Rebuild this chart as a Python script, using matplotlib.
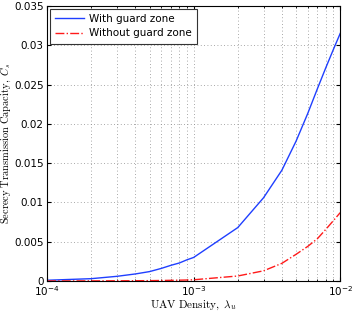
import matplotlib
matplotlib.use("Agg")
import matplotlib.pyplot as plt
from matplotlib.ticker import LogLocator, NullFormatter

plt.rcParams['mathtext.fontset'] = 'cm'

density = [1e-4, 2e-4, 3e-4, 4e-4, 5e-4, 6e-4, 7e-4, 8e-4, 9e-4,
           1e-3, 2e-3, 3e-3, 4e-3, 5e-3, 6e-3, 7e-3, 8e-3, 9e-3, 1e-2]
with_guard = [0.0001, 0.0003, 0.0006, 0.0009, 0.0012, 0.0016, 0.0020, 0.0023, 0.0027,
              0.0030, 0.0068, 0.0106, 0.0141, 0.0178, 0.0213, 0.0245, 0.0272, 0.0295, 0.0315]
without_guard = [0.00001, 0.00002, 0.00003, 0.00004, 0.00005, 0.00007, 0.00009, 0.00011, 0.00013,
                 0.00016, 0.00064, 0.0013, 0.00225, 0.0034, 0.0044, 0.0054, 0.0066, 0.0077, 0.0087]

fig = plt.figure(figsize=(3.54, 3.14), dpi=100)
ax = fig.add_axes([0.133, 0.105, 0.828, 0.876])

ax.plot(density, with_guard, color='#1f3fff', lw=1.0, label='With guard zone')
ax.plot(density, without_guard, color='#ff1a1a', lw=1.0, ls='-.', label='Without guard zone')

ax.set_xscale('log')
ax.set_xlim(1e-4, 1e-2)
ax.set_ylim(0, 0.035)
ax.set_yticks([0, 0.005, 0.01, 0.015, 0.02, 0.025, 0.03, 0.035])
ax.set_yticklabels(['0', '0.005', '0.01', '0.015', '0.02', '0.025', '0.03', '0.035'])
ax.xaxis.set_minor_locator(LogLocator(base=10, subs=range(2, 10)))
ax.xaxis.set_minor_formatter(NullFormatter())

gstyle = dict(ls=(0, (1, 3)), color='#8c8c8c', lw=0.6)
ax.grid(True, which='major', **gstyle)
ax.grid(True, which='minor', axis='x', **gstyle)
ax.tick_params(which='both', direction='in', top=True, right=True, labelsize=7.5, pad=2.5)
ax.tick_params(which='major', length=3)
ax.tick_params(which='minor', length=1.5)
for s in ax.spines.values():
    s.set_linewidth(0.8)

ax.set_xlabel(r'$\mathrm{UAV\ Density,}\ \lambda_u$', fontsize=8, labelpad=0)
ax.set_ylabel(r'$\mathrm{Secrecy\ Transmission\ Capacity,}\ C_s$', fontsize=7.5, labelpad=1)
ax.yaxis.set_label_coords(-0.115, 0.5)

leg = ax.legend(loc='upper left', fontsize=7.5, frameon=True, fancybox=False,
                edgecolor='#333333', framealpha=1, borderaxespad=0.25,
                handlelength=2.8, borderpad=0.5, labelspacing=0.45, handletextpad=0.5)
leg.get_frame().set_linewidth(0.8)

fig.savefig('out.png', dpi=100)
